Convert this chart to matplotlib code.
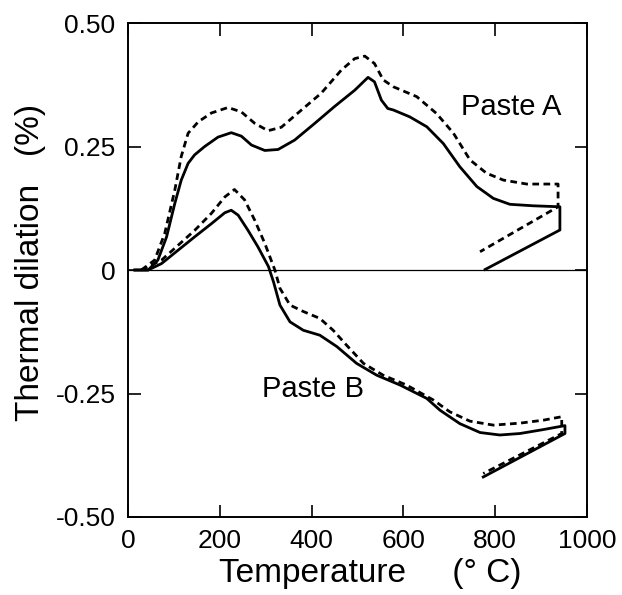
import matplotlib

matplotlib.use("Agg")
import matplotlib.pyplot as plt

plt.rcParams["font.family"] = ["Liberation Sans", "DejaVu Sans"]

# Paste A, solid curve (heating, then cooling tail)
a_solid_t = [15, 44, 65, 84, 102, 116, 131, 145, 167, 196, 225, 247, 269, 298,
             327, 363, 407, 450, 494, 523, 537, 552, 566, 578, 614, 651, 687,
             723, 760, 796, 832, 883, 941, 941, 778]
a_solid_v = [0.0, 0.0, 0.02, 0.067, 0.135, 0.182, 0.216, 0.233, 0.25, 0.269,
             0.278, 0.271, 0.253, 0.242, 0.244, 0.263, 0.297, 0.331, 0.364,
             0.39, 0.381, 0.344, 0.327, 0.324, 0.31, 0.29, 0.256, 0.209, 0.169,
             0.145, 0.133, 0.13, 0.128, 0.081, 0.001]

# Paste A, dashed curve
a_dash_t = [29, 58, 80, 102, 116, 131, 153, 182, 218, 247, 276, 305, 334, 378,
            421, 465, 494, 516, 537, 556, 578, 629, 672, 709, 745, 781, 818,
            869, 937, 937, 767]
a_dash_v = [0.0, 0.02, 0.074, 0.162, 0.23, 0.277, 0.3, 0.318, 0.329, 0.32,
            0.297, 0.282, 0.289, 0.324, 0.358, 0.405, 0.428, 0.433, 0.418,
            0.385, 0.371, 0.351, 0.317, 0.277, 0.223, 0.196, 0.182, 0.174,
            0.174, 0.128, 0.037]

# Paste B, solid curve
b_solid_t = [15, 44, 73, 109, 145, 182, 211, 225, 240, 261, 283, 306, 317, 331,
             353, 382, 418, 455, 498, 542, 593, 651, 680, 723, 767, 810, 854,
             905, 952, 952, 774]
b_solid_v = [0.0, 0.0, 0.013, 0.04, 0.067, 0.094, 0.116, 0.121, 0.111, 0.081,
             0.047, 0.007, -0.024, -0.071, -0.105, -0.122, -0.132, -0.155,
             -0.189, -0.213, -0.233, -0.26, -0.284, -0.311, -0.329, -0.334,
             -0.331, -0.323, -0.315, -0.331, -0.419]

# Paste B, dashed curve
b_dash_t = [29, 73, 109, 145, 182, 211, 232, 254, 276, 298, 320, 331, 353, 382,
            418, 447, 476, 513, 556, 607, 665, 701, 745, 796, 854, 905, 945,
            945, 774]
b_dash_v = [0.0, 0.02, 0.05, 0.08, 0.115, 0.148, 0.163, 0.142, 0.101, 0.054,
            0.0, -0.037, -0.071, -0.084, -0.098, -0.122, -0.152, -0.189,
            -0.213, -0.233, -0.263, -0.287, -0.306, -0.314, -0.31, -0.304,
            -0.297, -0.331, -0.412]

x_ticks = [0, 200, 400, 600, 800, 1000]
y_ticks = [-0.5, -0.25, 0, 0.25, 0.5]
y_tick_labels = ["-0.50", "-0.25", "0", "0.25", "0.50"]

fig = plt.figure(figsize=(6.22, 5.95), dpi=100)
ax = fig.add_axes([0.2058, 0.1311, 0.7379, 0.8302])

dash = (0, (2.4, 1.6))
ax.axhline(0, color="black", lw=0.9)
ax.plot(a_solid_t, a_solid_v, color="black", lw=2.0, solid_joinstyle="round")
ax.plot(a_dash_t, a_dash_v, color="black", lw=2.0, linestyle=dash)
ax.plot(b_solid_t, b_solid_v, color="black", lw=2.0, solid_joinstyle="round")
ax.plot(b_dash_t, b_dash_v, color="black", lw=2.0, linestyle=dash)

ax.text(835, 0.33, "Paste A", ha="center", va="center", fontsize=21)
ax.text(403, -0.24, "Paste B", ha="center", va="center", fontsize=21)

ax.set_xlim(0, 1000)
ax.set_ylim(-0.5, 0.5)
ax.set_xticks(x_ticks)
ax.set_yticks(y_ticks)
ax.set_yticklabels(y_tick_labels)
ax.tick_params(direction="in", length=9, width=1.2, labelsize=19,
               top=True, right=True, pad=9)
for s in ax.spines.values():
    s.set_linewidth(1.4)

ax.set_xlabel("Temperature     (° C)", fontsize=24)
ax.set_ylabel("Thermal dilation   (%)", fontsize=24)
ax.xaxis.set_label_coords(0.527, -0.083)
ax.yaxis.set_label_coords(-0.178, 0.515)

fig.savefig("out.png", dpi=100)
